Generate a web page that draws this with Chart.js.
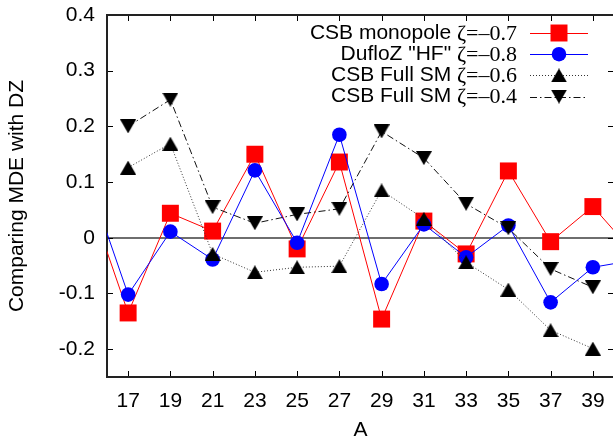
<!DOCTYPE html>
<html>
<head>
<meta charset="utf-8">
<script src="https://cdn.jsdelivr.net/npm/chart.js@4.4.1/dist/chart.umd.min.js"></script>
<style>
  html, body { margin: 0; padding: 0; background: #fff; overflow: hidden; }
  #wrap { position: relative; width: 620px; height: 440px; }
  canvas { display: block; }
</style>
</head>
<body>
<div id="wrap"><canvas id="c" width="620" height="440"></canvas></div>
<script>
// Mass number A and the MDE differences with respect to DZ
const massNumbers = [15, 17, 19, 21, 23, 25, 27, 29, 31, 33, 35, 37, 39, 41];
const monopole = [0.085, -0.135, 0.044, 0.012, 0.150, -0.020, 0.136, -0.146, 0.030, -0.029, 0.120, -0.007, 0.056, -0.030];
const dufloHF  = [0.118, -0.102, 0.011, -0.039, 0.121, -0.009, 0.185, -0.083, 0.024, -0.035, 0.022, -0.116, -0.053, -0.040];
const fullSM06 = [null, 0.126, 0.169, -0.029, -0.062, -0.053, -0.051, 0.085, 0.034, -0.044, -0.093, -0.166, -0.199, null];
const fullSM04 = [null, 0.200, 0.248, 0.055, 0.026, 0.042, 0.052, 0.191, 0.143, 0.061, 0.017, -0.056, -0.089, null];

const xTicks = [17, 19, 21, 23, 25, 27, 29, 31, 33, 35, 37, 39];
const yTicks = [-0.2, -0.1, 0, 0.1, 0.2, 0.3, 0.4];

const seriesNames = ['CSB monopole', 'DufloZ "HF"', 'CSB Full SM', 'CSB Full SM'];
const zetaLabels = ['\u03B6=\u20130.7', '\u03B6=\u20130.8', '\u03B6=\u20130.6', '\u03B6=\u20130.4'];

const SANS = '"Liberation Sans", Arial, sans-serif';
const SERIF = '"Liberation Serif", "Times New Roman", serif';

// Filled triangle glyphs, centred on their bounding box
function triangleGlyph(pointsDown) {
  const w = 16, h = 14;
  const cv = document.createElement('canvas');
  cv.width = w; cv.height = h;
  const g = cv.getContext('2d');
  g.fillStyle = '#000';
  g.beginPath();
  if (pointsDown) {
    g.moveTo(0, 0); g.lineTo(w, 0); g.lineTo(w / 2, h);
  } else {
    g.moveTo(w / 2, 0); g.lineTo(w, h); g.lineTo(0, h);
  }
  g.closePath();
  g.fill();
  return cv;
}
const triUp = triangleGlyph(false);
const triDown = triangleGlyph(true);

function toPoints(values) {
  return massNumbers.map((a, i) => ({ x: a, y: values[i] }));
}

const datasets = [
  {
    data: toPoints(monopole), borderColor: '#ff0000', backgroundColor: '#ff0000',
    borderWidth: 1, pointStyle: 'rect', pointRadius: 12, pointHoverRadius: 12,
    pointBorderWidth: 0, order: 4
  },
  {
    data: toPoints(dufloHF), borderColor: '#0000ff', backgroundColor: '#0000ff',
    borderWidth: 1, pointStyle: 'circle', pointRadius: 7.3, pointHoverRadius: 7.3,
    pointBorderWidth: 0, order: 3
  },
  {
    data: toPoints(fullSM06), borderColor: '#333', backgroundColor: '#000',
    borderWidth: 1, borderDash: [1, 2], pointStyle: triUp, pointRadius: 8,
    pointBorderWidth: 0, order: 2
  },
  {
    data: toPoints(fullSM04), borderColor: '#111', backgroundColor: '#000',
    borderWidth: 1, borderDash: [7, 3, 1.5, 3], pointStyle: triDown, pointRadius: 8,
    pointBorderWidth: 0, order: 1
  }
];
datasets.forEach(d => { d.fill = false; d.tension = 0; d.clip = 0; d.spanGaps = false; });

// Frame with inward tick marks on all four sides, plus the key
const framePlugin = {
  id: 'frame',
  beforeDatasetsDraw(chart) {
    const { ctx, chartArea: a, scales: { x, y } } = chart;
    ctx.save();
    ctx.strokeStyle = '#000';
    ctx.lineWidth = 1;
    ctx.beginPath();
    xTicks.forEach(v => {
      const px = Math.round(x.getPixelForValue(v)) + 0.5;
      ctx.moveTo(px, a.bottom); ctx.lineTo(px, a.bottom - 6);
      ctx.moveTo(px, a.top); ctx.lineTo(px, a.top + 6);
    });
    yTicks.forEach(v => {
      const py = Math.round(y.getPixelForValue(v)) + 0.5;
      ctx.moveTo(a.left, py); ctx.lineTo(a.left + 6, py);
      ctx.moveTo(a.right, py); ctx.lineTo(a.right - 6, py);
    });
    ctx.stroke();
    ctx.lineWidth = 2;
    ctx.strokeStyle = '#222';
    ctx.strokeRect(a.left, a.top, a.right - a.left, a.bottom - a.top);
    ctx.restore();
  },
  afterDatasetsDraw(chart) {
    const { ctx } = chart;
    const textRight = 517, lineX0 = 530, lineX1 = 588, markX = 559;
    const rowY = [33, 54.2, 75.4, 96.6];
    ctx.save();
    ctx.textBaseline = 'middle';
    datasets.forEach((d, i) => {
      const yy = rowY[i];
      ctx.font = '22px ' + SERIF;
      ctx.fillStyle = '#000';
      ctx.textAlign = 'left';
      const zw = ctx.measureText(zetaLabels[i]).width;
      ctx.fillText(zetaLabels[i], textRight - zw, yy + 1);
      ctx.font = '21px ' + SANS;
      ctx.textAlign = 'right';
      ctx.fillText(seriesNames[i] + ' ', textRight - zw, yy);

      ctx.strokeStyle = d.borderColor;
      ctx.lineWidth = d.borderWidth;
      ctx.setLineDash(d.borderDash || []);
      ctx.beginPath();
      ctx.moveTo(lineX0, Math.round(yy) + 0.5);
      ctx.lineTo(lineX1, Math.round(yy) + 0.5);
      ctx.stroke();
      ctx.setLineDash([]);

      ctx.fillStyle = d.backgroundColor;
      if (d.pointStyle === 'rect') {
        const s = d.pointRadius * Math.SQRT1_2;
        ctx.fillRect(markX - s, yy - s, 2 * s, 2 * s);
      } else if (d.pointStyle === 'circle') {
        ctx.beginPath();
        ctx.arc(markX, yy, d.pointRadius, 0, Math.PI * 2);
        ctx.fill();
      } else {
        const img = d.pointStyle;
        ctx.drawImage(img, markX - img.width / 2, yy - img.height / 2);
      }
    });
    ctx.restore();
  }
};

new Chart(document.getElementById('c'), {
  type: 'line',
  data: { datasets },
  plugins: [framePlugin],
  options: {
    responsive: false,
    animation: false,
    events: [],
    layout: { autoPadding: false, padding: { left: 0, right: 6, top: 15, bottom: 0 } },
    plugins: { legend: { display: false }, tooltip: { enabled: false } },
    scales: {
      x: {
        type: 'linear',
        min: 16, max: 40,
        afterBuildTicks: s => { s.ticks = xTicks.map(v => ({ value: v })); },
        afterFit: s => { s.height = 63; s.paddingLeft = 0; s.paddingRight = 0; },
        grid: { display: false, drawTicks: false },
        border: { display: false },
        ticks: {
          color: '#000', padding: 12, maxRotation: 0, autoSkip: false,
          font: { family: SANS, size: 21 },
          callback: v => String(v)
        },
        title: {
          display: true, text: 'A', color: '#000',
          font: { family: SANS, size: 21 },
          padding: { top: 0, bottom: -3 }
        }
      },
      y: {
        type: 'linear',
        min: -0.25, max: 0.4,
        afterBuildTicks: s => { s.ticks = yTicks.map(v => ({ value: v })); },
        afterFit: s => { s.width = 107; s.paddingTop = 0; s.paddingBottom = 0; },
        grid: {
          drawTicks: false,
          color: c => (c.tick && c.tick.value === 0) ? '#6e6e6e' : 'rgba(0,0,0,0)',
          lineWidth: c => (c.tick && c.tick.value === 0) ? 2 : 0
        },
        border: { display: false },
        ticks: {
          color: '#000', padding: 12,
          font: { family: SANS, size: 21 },
          callback: v => (v === 0 ? '0' : Number(v).toFixed(1))
        },
        title: {
          display: true, text: 'Comparing MDE with DZ', color: '#000',
          font: { family: SANS, size: 21 },
          padding: { top: 5, bottom: 0 }
        }
      }
    }
  }
});
</script>
</body>
</html>
